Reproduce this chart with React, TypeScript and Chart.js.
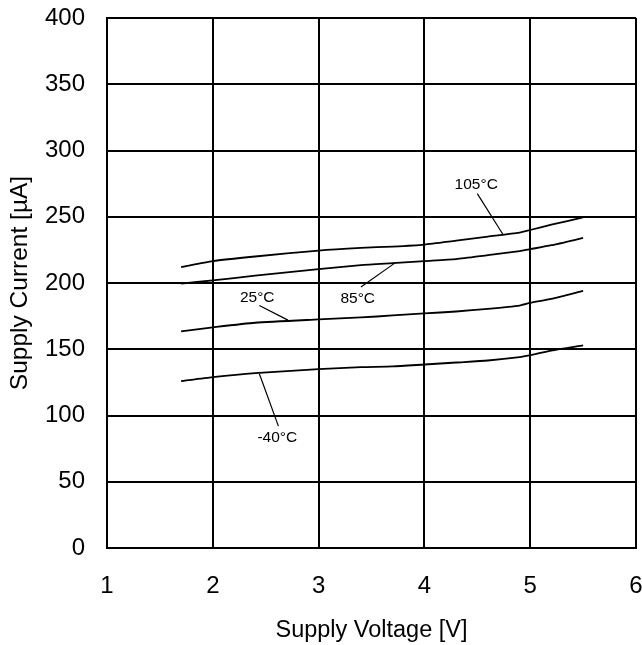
import React, { useEffect, useRef } from "react";
import { Chart, registerables } from "chart.js";

Chart.register(...registerables);

const voltages = [1.7, 2.0, 2.4, 3.0, 3.4, 3.7, 4.0, 4.3, 4.6, 4.9, 5.0, 5.2, 5.5];
const current105 = [212, 216.5, 220, 224.5, 226.5, 227.5, 229, 232, 235, 238, 240, 244, 249.5];
const current85 = [199.5, 202, 205.5, 210.5, 213.5, 215, 216.5, 218, 221, 224, 225.5, 228.5, 234];
const current25 = [163.5, 166.5, 170, 172.5, 174, 175.5, 177, 178.5, 180.5, 183, 185, 188, 194];
const currentM40 = [126, 129, 132, 135, 136.5, 137, 138.5, 140, 141.5, 144, 145.5, 149, 153];

const seriesNames = ["105°C", "85°C", "25°C", "-40°C"];
// label text anchor (voltage, current) and leader line endpoints
const labelX = [4.49, 3.37, 2.42, 2.61];
const labelY = [274, 188.5, 189, 83];
const leaderFromX = [4.5, 3.4, 2.44, 2.62];
const leaderFromY = [267.5, 197, 183, 92];
const leaderToX = [4.74, 3.72, 2.71, 2.44];
const leaderToY = [237, 215, 172, 131.5];

const xTicks = [1, 2, 3, 4, 5, 6];
const yTicks = [0, 50, 100, 150, 200, 250, 300, 350, 400];

const FONT = "'Liberation Sans', Arial, sans-serif";

const labelPlugin = {
  id: "curveLabels",
  afterDatasetsDraw(chart: any) {
    const { ctx, scales } = chart;
    const xs = scales.x;
    const ys = scales.y;
    ctx.save();
    ctx.fillStyle = "#000";
    ctx.font = `15.5px ${FONT}`;
    ctx.textAlign = "center";
    ctx.textBaseline = "middle";
    seriesNames.forEach((name, i) => {
      ctx.fillText(name, xs.getPixelForValue(labelX[i]), ys.getPixelForValue(labelY[i]));
    });
    ctx.restore();
  },
};

export default function App() {
  const ref = useRef<HTMLCanvasElement>(null);
  useEffect(() => {
    document.body.style.margin = "0";
    const series = [current105, current85, current25, currentM40];
    const datasets: any[] = series.map((vals) => ({
      data: voltages.map((v, i) => ({ x: v, y: vals[i] })),
      borderColor: "#000",
      borderWidth: 1.8,
      pointRadius: 0,
      tension: 0.2,
      fill: false,
    }));
    seriesNames.forEach((_, i) => {
      datasets.push({
        data: [
          { x: leaderFromX[i], y: leaderFromY[i] },
          { x: leaderToX[i], y: leaderToY[i] },
        ],
        borderColor: "#000",
        borderWidth: 1.2,
        pointRadius: 0,
        tension: 0,
        fill: false,
      });
    });
    const chart = new Chart(ref.current!, {
      type: "line",
      data: { datasets },
      options: {
        animation: false,
        responsive: false,
        layout: { padding: { top: 18, right: 6, left: 0, bottom: 0 } },
        plugins: { legend: { display: false }, tooltip: { enabled: false } },
        scales: {
          x: {
            type: "linear",
            min: 1,
            max: 6,
            afterBuildTicks: (s: any) => {
              s.ticks = xTicks.map((v) => ({ value: v }));
            },
            afterFit: (s: any) => {
              s.height = 97;
              s.paddingLeft = 0;
              s.paddingRight = 0;
            },
            grid: { color: "#000", lineWidth: 2, drawTicks: false },
            border: { color: "#000", width: 2 },
            ticks: {
              color: "#000",
              font: { family: FONT, size: 24 },
              padding: 24,
              maxRotation: 0,
            },
            title: {
              display: true,
              text: "Supply Voltage [V]",
              color: "#000",
              font: { family: FONT, size: 23.5 },
              padding: { top: 0, bottom: 0 },
            },
          },
          y: {
            type: "linear",
            min: 0,
            max: 400,
            afterBuildTicks: (s: any) => {
              s.ticks = yTicks.map((v) => ({ value: v }));
            },
            afterFit: (s: any) => {
              s.width = 107;
              s.paddingTop = 0;
              s.paddingBottom = 0;
            },
            grid: { color: "#000", lineWidth: 2, drawTicks: false },
            border: { color: "#000", width: 2 },
            ticks: {
              color: "#000",
              font: { family: FONT, size: 24 },
              padding: 22,
            },
            title: {
              display: true,
              text: "Supply Current [µA]",
              color: "#000",
              font: { family: FONT, size: 24.5 },
              padding: { top: 6, bottom: 0 },
            },
          },
        },
      },
      plugins: [labelPlugin],
    });
    return () => chart.destroy();
  }, []);
  return (
    <div style={{ width: 642, height: 645 }}>
      <canvas ref={ref} width={642} height={645} style={{ display: "block", width: 642, height: 645 }} />
    </div>
  );
}
